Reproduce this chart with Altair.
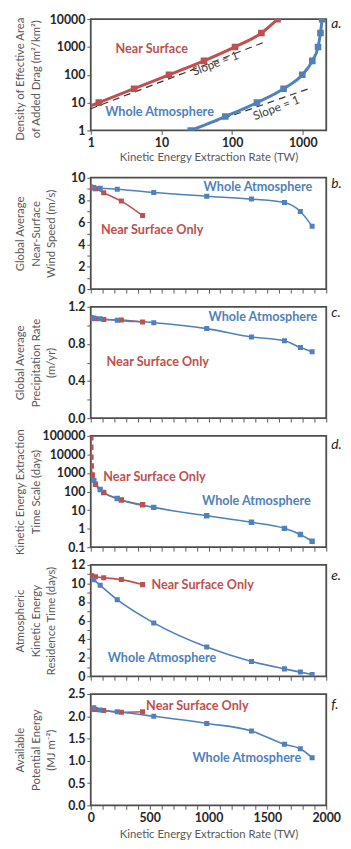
import altair as alt
import pandas as pd

# ---------------- data ----------------
ke_surface = [0.13, 0.41, 1.3, 4.1, 12.8, 40, 110, 260, 440]
ke_whole = [26, 80, 225, 535, 985, 1365, 1645, 1780, 1880]
drag_density = [1, 3.16, 10, 31.6, 100, 316, 1000, 3162, 10000]

wind_surface = [9.15, 9.15, 9.14, 9.12, 9.08, 9.0, 8.65, 7.9, 6.6]
wind_whole = [9.12, 9.06, 8.97, 8.67, 8.34, 8.08, 7.78, 6.97, 5.64]

precip_surface = [1.08, 1.08, 1.08, 1.078, 1.075, 1.07, 1.064, 1.058, 1.036]
precip_whole = [1.078, 1.072, 1.054, 1.029, 0.965, 0.875, 0.833, 0.761, 0.715]

timescale_surface = [78000, 24500, 7200, 2400, 780, 245, 89, 35, 19.5]
timescale_whole = [400, 130, 42, 14, 5.0, 2.2, 1.04, 0.48, 0.21]

residence_surface = [10.85, 10.85, 10.84, 10.82, 10.78, 10.72, 10.62, 10.42, 9.88]
residence_whole = [10.4, 9.8, 8.25, 5.75, 3.15, 1.6, 0.8, 0.45, 0.2]

ape_surface = [2.17, 2.17, 2.17, 2.17, 2.16, 2.15, 2.13, 2.09, 2.10]
ape_whole = [2.19, 2.14, 2.10, 2.0, 1.84, 1.67, 1.37, 1.27, 1.07]

# "Slope = 1" guide lines of panel a
slope_surface_x = [1, 290]
slope_surface_y = [6, 1500]
slope_whole_x = [25, 1364]
slope_whole_y = [1, 35]

SERIES = ["Near Surface", "Whole Atmosphere"]
RED = "#C0504D"
BLUE = "#4F81BD"
FONT = "Lato"
W, H = 239, 113

color_enc = alt.Color("series:N", scale=alt.Scale(domain=SERIES, range=[RED, BLUE]), legend=None)


def series_df(xs, ys, xw, yw):
    return pd.DataFrame({
        "ke": list(xs) + list(xw),
        "val": list(ys) + list(yw),
        "series": [SERIES[0]] * len(xs) + [SERIES[1]] * len(xw),
    })


def label_df(entries):
    return pd.DataFrame(entries, columns=["label", "ke", "val", "series"])


def panel(df, xscale, yscale, xaxis, yaxis, labels, letter, letter_dy, lw=1.6, msize=26, extra_df=None):
    x = alt.X("ke:Q", scale=xscale, axis=xaxis)
    y = alt.Y("val:Q", scale=yscale, axis=yaxis)
    layers = []
    if extra_df is not None:
        slope_df, slope_txt_df = extra_df
        layers.append(alt.Chart(slope_df).mark_line(
            strokeDash=[7, 5], color="#333333", strokeWidth=1.2, clip=True).encode(x=x, y=y, detail="grp:N"))
        layers.append(alt.Chart(slope_txt_df).mark_text(
            font=FONT, fontSize=12, angle=339, color="#404040").encode(x=x, y=y, text="t:N"))
    layers.append(alt.Chart(df).mark_line(strokeWidth=lw, interpolate="monotone", clip=True).encode(
        x=x, y=y, color=color_enc, detail="series:N"))
    layers.append(alt.Chart(df).mark_square(size=msize, opacity=1, clip=True).encode(
        x=x, y=y, color=color_enc))
    layers.append(alt.Chart(labels).mark_text(font=FONT, fontSize=12.8, fontWeight="bold").encode(
        x=x, y=y, text="label:N", color=color_enc))
    layers.append(alt.Chart(pd.DataFrame({"t": [letter]})).mark_text(
        font=FONT, fontSize=14, fontStyle="italic", align="left", baseline="middle", color="#222222"
    ).encode(x=alt.value(W + 5), y=alt.value(letter_dy), text="t:N"))
    return alt.layer(*layers).properties(width=W, height=H)


def yaxis(title, values, label_expr=None, fmt=None, title_dy=0):
    kw = dict(values=values, title=title, titleX=-77, titleY=H / 2 + title_dy, titleBaseline="top",
              titleLineHeight=15.5, labelOverlap=False)
    if label_expr:
        kw["labelExpr"] = label_expr
    if fmt:
        kw["format"] = fmt
    return alt.Axis(**kw)


x_lin_values = list(range(0, 2001, 100))
x_lin_scale = alt.Scale(domain=[0, 2000], nice=False)
x_blank_axis = alt.Axis(values=x_lin_values, labels=False, title=None, labelOverlap=False)

# ---------------- panel a ----------------
slope_df = pd.DataFrame({
    "ke": slope_surface_x + slope_whole_x,
    "val": slope_surface_y + slope_whole_y,
    "grp": ["s", "s", "w", "w"],
})
slope_txt_df = pd.DataFrame({"ke": [58, 422], "val": [255, 6.5], "t": ["Slope = 1", "Slope = 1"]})

panel_a = panel(
    series_df(ke_surface, drag_density, ke_whole, drag_density),
    alt.Scale(type="log", domain=[1, 2150], nice=False),
    alt.Scale(type="log", domain=[1, 10000], nice=False),
    alt.Axis(values=[1, 10, 100, 1000], format="d", labelFlush=False, labelOverlap=False,
             title="Kinetic Energy Extraction Rate (TW)", titlePadding=3),
    yaxis(["Density of Effective Area", "of Added Drag (m²/km²)"], [1, 10, 100, 1000, 10000],
          fmt="d", title_dy=4),
    label_df([["Near Surface", 7.3, 819, SERIES[0]], ["Whole Atmosphere", 9.4, 4.7, SERIES[1]]]),
    "a.", 5, lw=3, msize=45, extra_df=(slope_df, slope_txt_df),
)

# spacer between panel a (which has its own x axis) and panel b
spacer = alt.Chart(pd.DataFrame({"v": [0]})).mark_point(opacity=0).encode(
    x=alt.X("v:Q", axis=None), y=alt.Y("v:Q", axis=None)
).properties(width=W, height=12, view=alt.ViewBackground(strokeOpacity=0))

# ---------------- panel b ----------------
panel_b = panel(
    series_df(ke_surface, wind_surface, ke_whole, wind_whole),
    x_lin_scale, alt.Scale(domain=[0, 10], nice=False), x_blank_axis,
    yaxis(["Global Average", "Near-Surface", "Wind Speed (m/s)"], list(range(0, 11)),
          label_expr="datum.value % 2 == 0 ? datum.label : ''"),
    label_df([["Whole Atmosphere", 1420, 9.2, SERIES[1]], ["Near Surface Only", 521, 5.34, SERIES[0]]]),
    "b.", 6,
)

# ---------------- panel c ----------------
panel_c = panel(
    series_df(ke_surface, precip_surface, ke_whole, precip_whole),
    x_lin_scale, alt.Scale(domain=[0, 1.2], nice=False), x_blank_axis,
    yaxis(["Global Average", "Precipitation Rate", "(m/yr)"], [0, 0.2, 0.4, 0.6, 0.8, 1.0, 1.2],
          label_expr="round(datum.value * 10) % 4 == 0 ? format(datum.value, '.1f') : ''"),
    label_df([["Whole Atmosphere", 1462, 1.09, SERIES[1]], ["Near Surface Only", 569, 0.608, SERIES[0]]]),
    "c.", 6,
)

# ---------------- panel d ----------------
panel_d = panel(
    series_df(ke_surface, timescale_surface, ke_whole, timescale_whole),
    x_lin_scale, alt.Scale(type="log", domain=[0.1, 100000], nice=False), x_blank_axis,
    yaxis(["Kinetic Energy Extraction", "Time Scale (days)"], [0.1, 1, 10, 100, 1000, 10000, 100000],
          label_expr="datum.value < 0.5 ? '0.1' : format(datum.value, 'd')"),
    label_df([["Near Surface Only", 541, 612, SERIES[0]], ["Whole Atmosphere", 1406, 29, SERIES[1]]]),
    "d.", 9, msize=30,
)

# ---------------- panel e ----------------
panel_e = panel(
    series_df(ke_surface, residence_surface, ke_whole, residence_whole),
    x_lin_scale, alt.Scale(domain=[0, 12], nice=False), x_blank_axis,
    yaxis(["Atmospheric", "Kinetic Energy", "Residence Time (days)"], list(range(0, 13)),
          label_expr="datum.value % 2 == 0 ? datum.label : ''"),
    label_df([["Near Surface Only", 950, 9.84, SERIES[0]], ["Whole Atmosphere", 605, 1.94, SERIES[1]]]),
    "e.", 11,
)

# ---------------- panel f ----------------
panel_f = panel(
    series_df(ke_surface, ape_surface, ke_whole, ape_whole),
    x_lin_scale, alt.Scale(domain=[0, 2.5], nice=False),
    alt.Axis(values=x_lin_values, labelExpr="datum.value % 500 == 0 ? datum.label : ''", format="d",
             labelFlush=False, labelOverlap=False, title="Kinetic Energy Extraction Rate (TW)", titlePadding=5),
    yaxis(["Available", "Potential Energy", "(MJ m⁻²)"], [0, 0.5, 1.0, 1.5, 2.0, 2.5], fmt=".1f"),
    label_df([["Near Surface Only", 905, 2.23, SERIES[0]], ["Whole Atmosphere", 1325, 1.07, SERIES[1]]]),
    "f.", 11,
)

chart = alt.vconcat(
    panel_a, spacer, panel_b, panel_c, panel_d, panel_e, panel_f, spacing=18, bounds="flush"
).properties(
    padding={"left": 6, "top": -2, "right": 0, "bottom": 0}
).configure_view(
    stroke="#4d4d4d", strokeWidth=1.8
).configure_axis(
    labelFont=FONT, labelFontSize=12.5, labelFontWeight="bold", labelColor="#262626", labelPadding=2,
    titleFont=FONT, titleFontSize=11.5, titleFontWeight="normal", titleColor="#595959",
    tickColor="#595959", tickSize=4, domain=False, grid=False, labelOverlap=False,
)

chart.save("out.html", embed_options={"renderer": "svg", "actions": False})
